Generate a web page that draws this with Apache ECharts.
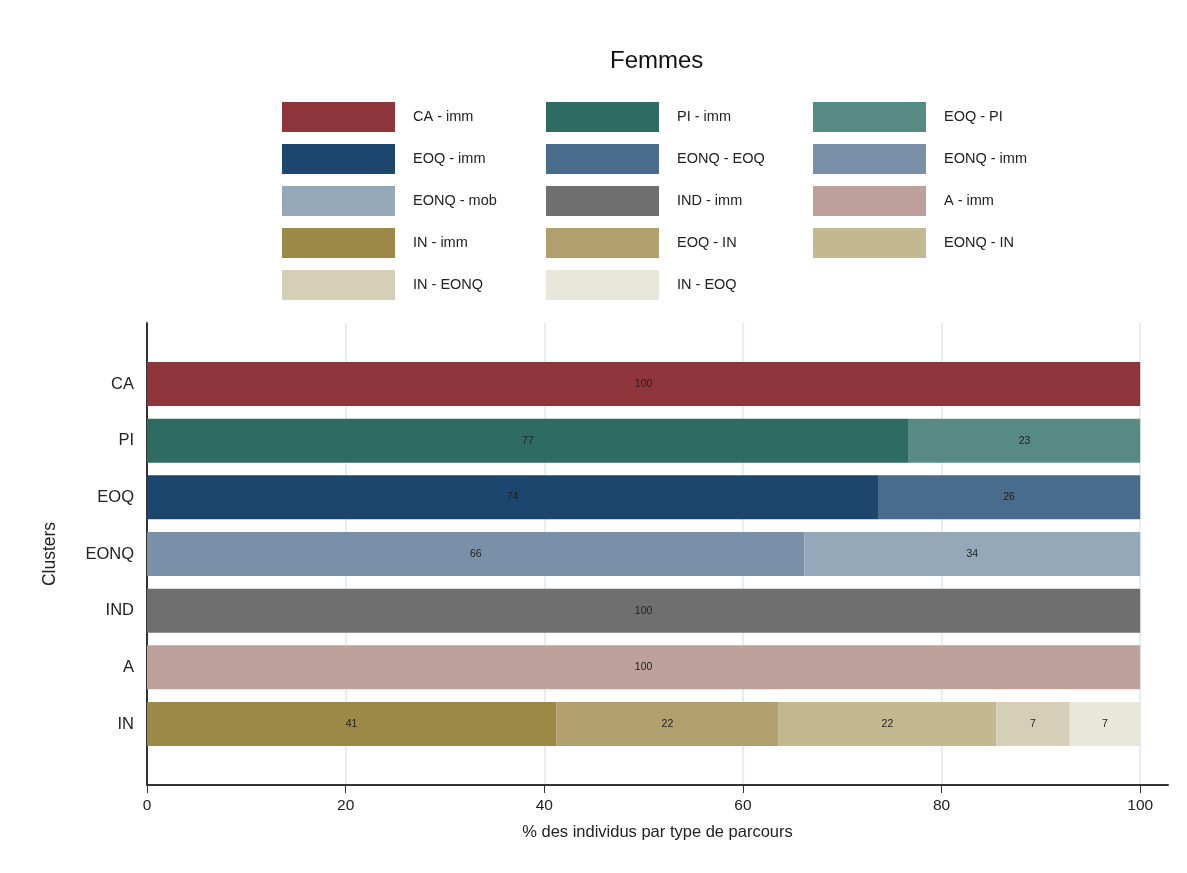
<!DOCTYPE html>
<html>
<head>
<meta charset="utf-8">
<script src="https://cdn.jsdelivr.net/npm/echarts@6/dist/echarts.min.js"></script>
<style>html,body{margin:0;padding:0;background:#fff}#c{width:1187px;height:873px}</style>
</head>
<body>
<div id="c"></div>
<script>
const categories = ['CA','PI','EOQ','EONQ','IND','A','IN'];
const seriesNames = ['CA - imm','PI - imm','EOQ - PI','EOQ - imm','EONQ - EOQ','EONQ - imm','EONQ - mob','IND - imm','A - imm','IN - imm','EOQ - IN','EONQ - IN','IN - EONQ','IN - EOQ'];
const caImm    = [100, null, null, null, null, null, null];
const piImm    = [null, 76.7, null, null, null, null, null];
const eoqPi    = [null, 23.3, null, null, null, null, null];
const eoqImm   = [null, null, 73.6, null, null, null, null];
const eonqEoq  = [null, null, 26.4, null, null, null, null];
const eonqImm  = [null, null, null, 66.2, null, null, null];
const eonqMob  = [null, null, null, 33.8, null, null, null];
const indImm   = [null, null, null, null, 100, null, null];
const aImm     = [null, null, null, null, null, 100, null];
const inImm    = [null, null, null, null, null, null, 41.2];
const eoqIn    = [null, null, null, null, null, null, 22.4];
const eonqIn   = [null, null, null, null, null, null, 21.9];
const inEonq   = [null, null, null, null, null, null, 7.4];
const inEoq    = [null, null, null, null, null, null, 7.1];
const xTicks = [0, 20, 40, 60, 80, 100];

const seriesData = [caImm, piImm, eoqPi, eoqImm, eonqEoq, eonqImm, eonqMob, indImm, aImm, inImm, eoqIn, eonqIn, inEonq, inEoq];
const colors = ['#8f353c','#2e6b62','#578a83','#1c466d','#496b8c','#7a90a8','#95a8ba','#6f6f6f','#bea19a','#9c8847','#b1a06e','#c4b891','#d6cfb7','#e9e6da'];

const FONT = 'Liberation Sans, Arial, sans-serif';
const chart = echarts.init(document.getElementById('c'), null, {renderer: 'canvas'});

const series = seriesNames.map((n, i) => ({
  name: n,
  type: 'bar',
  stack: 'total',
  xAxisIndex: 1,
  yAxisIndex: 1,
  barWidth: 44,
  data: seriesData[i],
  itemStyle: {color: colors[i]},
  label: {
    show: true,
    position: 'inside',
    fontSize: 10.5,
    fontFamily: FONT,
    color: '#222',
    formatter: p => p.value == null ? '' : String(Math.round(p.value))
  },
  emphasis: {disabled: true},
  animation: false
}));

const legendCol = (items, left) => ({
  orient: 'vertical',
  left: left,
  top: 102,
  padding: 0,
  itemWidth: 113,
  itemHeight: 30,
  itemGap: 12,
  icon: 'rect',
  selectedMode: false,
  data: items,
  textStyle: {fontSize: 14.5, fontFamily: FONT, color: '#222', padding: [0, 0, 0, 13]}
});

chart.setOption({
  backgroundColor: '#fff',
  animation: false,
  title: {
    text: 'Femmes',
    left: 610,
    top: 49,
    padding: 0,
    textStyle: {fontSize: 24, fontWeight: 'normal', fontFamily: FONT, color: '#111'}
  },
  legend: [
    legendCol([0,3,6,9,12].map(i => seriesNames[i]), 282),
    legendCol([1,4,7,10,13].map(i => seriesNames[i]), 546),
    legendCol([2,5,8,11].map(i => seriesNames[i]), 813)
  ],
  grid: [
    {left: 147, right: 19, top: 323, bottom: 88},
    {left: 147, right: 19, top: 355.7, bottom: 120.7}
  ],
  xAxis: [
    {
      gridIndex: 0, type: 'value', min: 0, max: 102.8, interval: 20,
      axisLine: {show: true, lineStyle: {color: '#333', width: 2}},
      axisTick: {show: true, length: 8, lineStyle: {color: '#333'}, customValues: xTicks},
      axisLabel: {fontSize: 15.5, fontFamily: FONT, color: '#222', margin: 13, customValues: xTicks},
      splitLine: {show: true, lineStyle: {color: '#e6eff0', width: 2}},
      name: '% des individus par type de parcours',
      nameLocation: 'middle',
      nameGap: 39,
      nameTextStyle: {fontSize: 16.5, fontFamily: FONT, color: '#222'}
    },
    {gridIndex: 1, type: 'value', min: 0, max: 102.8, show: false}
  ],
  yAxis: [
    {
      gridIndex: 0, type: 'value', min: 0, max: 1,
      axisLine: {show: true, lineStyle: {color: '#333', width: 2}},
      axisTick: {show: false}, axisLabel: {show: false}, splitLine: {show: false},
      name: 'Clusters', nameLocation: 'middle', nameGap: 88, nameRotate: 90,
      nameTextStyle: {fontSize: 17.5, fontFamily: FONT, color: '#222'}
    },
    {
      gridIndex: 1, type: 'category', inverse: true, data: categories,
      axisLine: {show: false}, axisTick: {show: false}, splitLine: {show: false},
      axisLabel: {fontSize: 16.5, fontFamily: FONT, color: '#222', margin: 13}
    }
  ],
  series: series
});
</script>
</body>
</html>
